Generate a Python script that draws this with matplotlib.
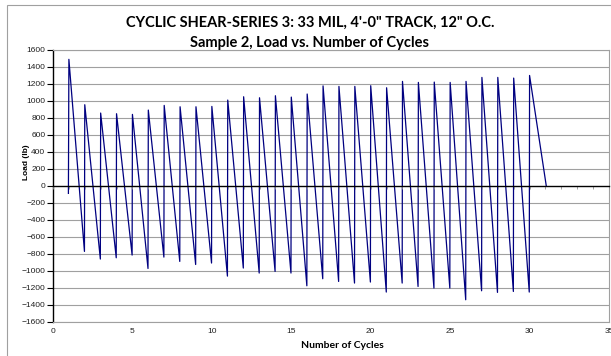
import numpy as np
import matplotlib
matplotlib.use("Agg")
import matplotlib.pyplot as plt
from matplotlib.patches import Rectangle

# ---- data ----
cycles = list(range(1, 31))
peaks = [1490, 955, 857, 849, 841, 892, 947, 931, 931, 935,
         1010, 1049, 1037, 1061, 1045, 1081, 1177, 1171, 1171, 1179,
         1155, 1230, 1218, 1222, 1218, 1230, 1277, 1277, 1269, 1300]
troughs = [-774, -864, -849, -817, -975, -841, -892, -928, -911, -1065,
           -970, -1029, -1010, -1029, -1179, -1096, -1128, -1147, -1135, -1253,
           -1147, -1187, -1206, -1206, -1344, -1238, -1257, -1246, -1253]
start_point = (0.97, -90)
end_point = (31.05, 0)
trough_lead = 0.02

yticks = list(range(-1600, 1601, 200))
xticks = [0, 5, 10, 15, 20, 25, 30, 35]

title1 = 'CYCLIC SHEAR-SERIES 3: 33 MIL, 4\'-0" TRACK, 12" O.C.'
title2 = 'Sample 2, Load vs. Number of Cycles'
xlabel = 'Number of Cycles'
ylabel = 'Load (lb)'

# ---- build path ----
xs = [start_point[0]]
ys = [start_point[1]]
for i, n in enumerate(cycles):
    if i > 0:
        xs.append(n - trough_lead)
        ys.append(troughs[i - 1])
    xs.append(n)
    ys.append(peaks[i])
xs.append(end_point[0])
ys.append(end_point[1])

W, H = 611, 356
fig = plt.figure(figsize=(W / 100, H / 100), dpi=100)
fig.patch.set_facecolor('white')

L, R, T, B = 53, 609, 50, 321.5
ax = fig.add_axes([L / W, 1 - B / H, (R - L) / W, (B - T) / H])

grid_c = '#a0a0a0'
for yv in yticks:
    if yv != 0:
        ax.axhline(yv, color=grid_c, lw=0.8, zorder=1)

ax.plot(xs, ys, color='#000080', lw=0.9, zorder=3, solid_joinstyle='round')

ax.set_xlim(0, 35)
ax.set_ylim(-1600, 1600)
ax.set_yticks(yticks)
ax.set_xticks(xticks)
ax.set_xticklabels([str(v) for v in xticks])

for side in ['top', 'right', 'bottom']:
    ax.spines[side].set_color(grid_c)
    ax.spines[side].set_linewidth(0.8)
ax.spines['left'].set_color('black')
ax.spines['left'].set_linewidth(1.0)

ax.tick_params(axis='y', length=4, width=0.8, pad=1.5, labelsize=6, colors='black')
ax.tick_params(axis='x', length=0, pad=5, labelsize=6)
for lab in ax.get_xticklabels() + ax.get_yticklabels():
    lab.set_fontfamily('Liberation Sans')
    lab.set_color('#202020')

# zero axis with small tick marks
ax2 = ax.twiny()
ax2.set_xlim(0, 35)
for side in ['top', 'right', 'left']:
    ax2.spines[side].set_visible(False)
ax2.spines['bottom'].set_position(('data', 0))
ax2.spines['bottom'].set_color('black')
ax2.spines['bottom'].set_linewidth(1.0)
ax2.xaxis.set_ticks_position('bottom')
ax2.set_xticks(range(0, 36))
ax2.tick_params(axis='x', length=2, width=0.6, color='#909090',
                labelbottom=False, labeltop=False)
ax2.patch.set_visible(False)

# titles and labels
fig.text(310 / W, 1 - 26.7 / H, title1, ha='center', va='baseline',
         family='Lato', fontweight='bold', fontsize=10.5)
fig.text(310 / W, 1 - 46.7 / H, title2, ha='center', va='baseline',
         family='Lato', fontweight='bold', fontsize=10.5)
fig.text(342 / W, 1 - 346 / H, xlabel, ha='center', va='center',
         family='Lato', fontweight='bold', fontsize=7.5)
fig.text(26 / W, 1 - 162 / H, ylabel, ha='center', va='center', rotation=90,
         family='Liberation Sans', fontweight='bold', fontsize=6)

# chart outer border
fig.patches.append(Rectangle((7 / W, -0.1), 2, 1 - 4.5 / H + 0.1,
                             transform=fig.transFigure, fill=False,
                             edgecolor='#a0a0a0', lw=0.8))

fig.savefig('out.png', dpi=100, facecolor='white')
